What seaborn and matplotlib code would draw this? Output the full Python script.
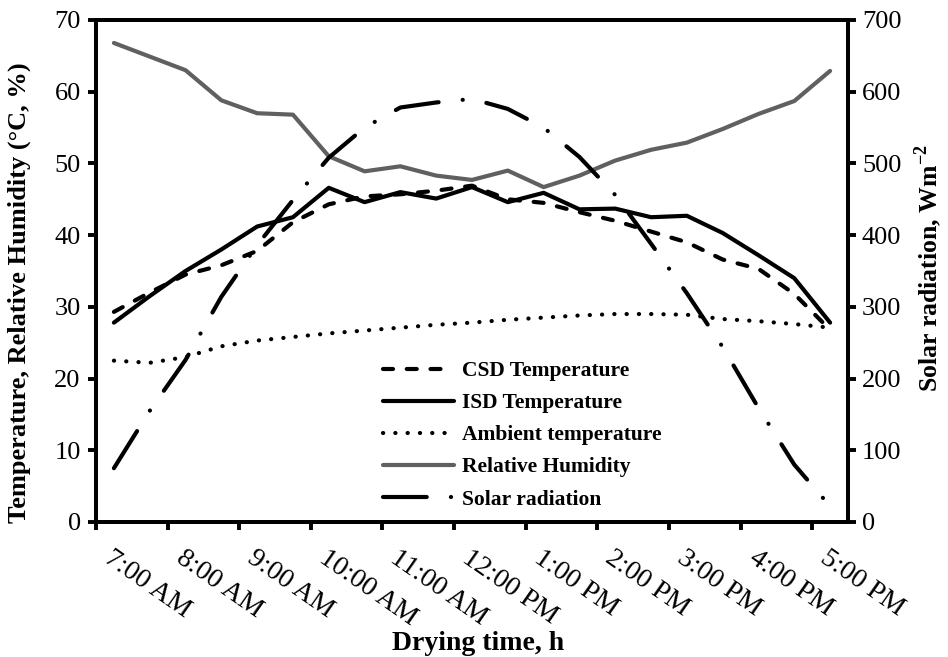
import numpy as np
import pandas as pd
import matplotlib
matplotlib.use("Agg")
import matplotlib.pyplot as plt
import seaborn as sns

# ---------------------------
# Data (half-hour readings, 7:00 AM to 5:00 PM)
# ---------------------------
hour_labels = ["7:00 AM", "8:00 AM", "9:00 AM", "10:00 AM", "11:00 AM", "12:00 PM",
               "1:00 PM", "2:00 PM", "3:00 PM", "4:00 PM", "5:00 PM"]

csd_temp = [29.3, 32.0, 34.5, 35.8, 37.8, 41.8, 44.3, 45.4, 45.7, 46.2, 46.9,
            45.0, 44.5, 43.2, 42.0, 40.5, 39.0, 36.6, 35.3, 31.8, 26.8]
isd_temp = [27.8, 31.5, 35.0, 38.0, 41.2, 42.5, 46.6, 44.6, 46.0, 45.1, 46.7,
            44.6, 45.9, 43.6, 43.7, 42.5, 42.7, 40.3, 37.2, 34.0, 27.8]
ambient_temp = [22.5, 22.2, 23.0, 24.5, 25.3, 25.8, 26.3, 26.7, 27.1, 27.5, 27.8,
                28.2, 28.5, 28.8, 29.0, 29.0, 28.9, 28.3, 28.0, 27.6, 27.1]
rel_humidity = [66.8, 64.9, 63.0, 58.8, 57.0, 56.8, 51.0, 48.9, 49.6, 48.3, 47.7,
                49.0, 46.7, 48.3, 50.4, 51.9, 52.9, 54.8, 56.9, 58.7, 62.9]
solar_rad = [75, 155, 226, 314, 386, 449, 508, 550, 578, 585, 590,
             576, 550, 509, 456, 388, 319, 244, 159, 80, 22]

df = pd.DataFrame({
    "csd": csd_temp,
    "isd": isd_temp,
    "ambient": ambient_temp,
    "rh": rel_humidity,
    "solar": solar_rad,
})
df["step"] = np.arange(len(df))

# ---------------------------
# Style
# ---------------------------
sns.set_style("ticks", {"axes.edgecolor": "black", "xtick.color": "black",
                        "ytick.color": "black", "text.color": "black",
                        "axes.labelcolor": "black"})
plt.rcParams["font.family"] = ["Liberation Serif", "DejaVu Serif"]
plt.rcParams["mathtext.fontset"] = "custom"
plt.rcParams["mathtext.rm"] = "Liberation Serif"
plt.rcParams["mathtext.bf"] = "Liberation Serif:bold"

fig = plt.figure(figsize=(9.48, 6.57), dpi=100)
ax = fig.add_axes([96 / 948, 1 - 522 / 657, 752 / 948, 502 / 657])
ax2 = ax.twinx()

LW = 3
common = dict(lw=LW, legend=False, solid_capstyle="round", dash_capstyle="round")

sns.lineplot(data=df, x="step", y="csd", ax=ax, color="black",
             linestyle=(0, (2.4, 3.3)), label="CSD Temperature", **common)
sns.lineplot(data=df, x="step", y="isd", ax=ax, color="black",
             label="ISD Temperature", **common)
sns.lineplot(data=df, x="step", y="ambient", ax=ax, color="black",
             linestyle=(0, (0.05, 2.9)), label="Ambient temperature", **common)
sns.lineplot(data=df, x="step", y="rh", ax=ax, color="#606060",
             label="Relative Humidity", **common)
sns.lineplot(data=df, x="step", y="solar", ax=ax2, color="black",
             linestyle=(0, (10.5, 5.8, 0.03, 5.8)), label="Solar radiation", **common)

# ---------------------------
# Axes
# ---------------------------
ax.set_xlim(-0.5, 20.5)
ax.set_ylim(0, 70)
ax2.set_ylim(0, 700)
ax.set_yticks(range(0, 71, 10))
ax2.set_yticks(range(0, 701, 100))

ax.set_xticks(np.arange(0, 21, 2))
ax.set_xticklabels(hour_labels)
ax.set_xticks(np.arange(-0.5, 20, 2), minor=True)
ax.tick_params(axis="x", which="major", length=0, pad=17, labelsize=20)
ax.tick_params(axis="x", which="minor", length=6, width=2.8, direction="out")
plt.setp(ax.get_xticklabels(), rotation=-35, ha="left", va="top",
         rotation_mode="anchor")

ax.tick_params(axis="y", length=6, width=2.8, direction="out", labelsize=19, pad=5)
ax2.tick_params(axis="y", length=6, width=2.8, direction="out", labelsize=19, pad=4)

for a in (ax, ax2):
    for s in a.spines.values():
        s.set_linewidth(2.8)
        s.set_color("black")

ax.set_xlabel("Drying time, h", fontsize=20, fontweight="bold")
ax.set_ylabel("Temperature, Relative Humidity (\u00b0C, %)", fontsize=19,
              fontweight="bold")
ax2.set_ylabel(r"Solar radiation, Wm$^{\mathbf{-2}}$", fontsize=18.5,
               fontweight="bold")
ax.xaxis.set_label_coords(0.508, -0.218)
ax.yaxis.set_label_coords(-0.086, 0.456)
ax2.yaxis.set_label_coords(1.085, 0.506)

# ---------------------------
# Legend
# ---------------------------
h1, l1 = ax.get_legend_handles_labels()
h2, l2 = ax2.get_legend_handles_labels()
ax2.legend(h1 + h2, l1 + l2, loc="upper left",
           bbox_to_anchor=(383 / 948, 1 - 361 / 657), bbox_transform=fig.transFigure,
           frameon=False, prop={"weight": "bold", "size": 15.5},
           handlelength=3.3, handletextpad=0.35, labelspacing=0.56,
           borderpad=0, borderaxespad=0)

fig.savefig("out.png", dpi=100)
